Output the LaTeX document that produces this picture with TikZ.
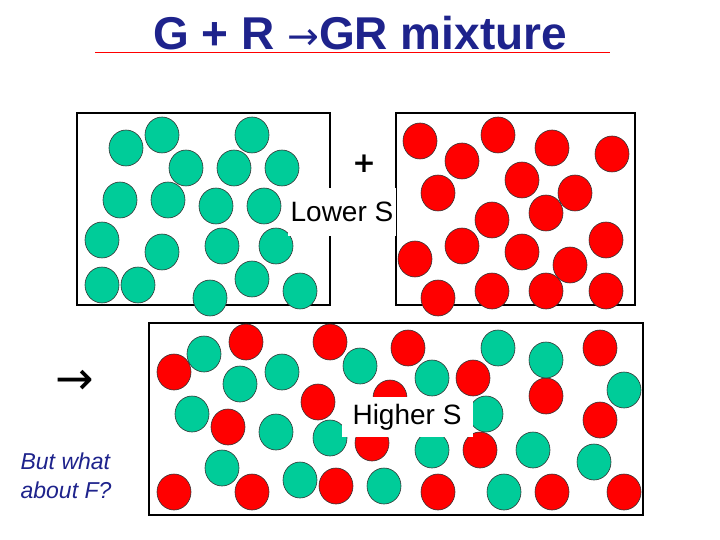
\documentclass[tikz,border=0pt]{standalone}
\usetikzlibrary{shapes.geometric}
\usepackage{fontspec}
\setmainfont{Liberation Sans}
\newfontfamily\djv{DejaVu Sans}
\definecolor{gr}{RGB}{0,204,153}
\definecolor{rd}{RGB}{255,0,0}
\definecolor{tb}{RGB}{30,35,140}
\begin{document}
\begin{tikzpicture}[x=1pt,y=-1pt,
  g/.style={draw=black!80,line width=0.6pt,fill=gr,ellipse,minimum width=34pt,minimum height=36pt,inner sep=0pt},
  r/.style={draw=black!80,line width=0.6pt,fill=rd,ellipse,minimum width=34pt,minimum height=36pt,inner sep=0pt},
  boxs/.style={draw=black,line width=1.2pt},
  lab/.style={fill=white,font=\fontsize{28}{30}\selectfont,inner sep=3pt}]
\useasboundingbox (0,0) rectangle (720,540);
\node[font=\fontsize{46}{50}\selectfont\bfseries,text=tb] (title) at (360,33) {G + R {\djv\mdseries\fontsize{38}{40}\selectfont →}GR mixture};
\draw[rd,line width=1pt] (95,53) coordinate (u1) -- (610,53) coordinate (u2);
\draw[boxs] (77,113) rectangle (330,305);
\draw[boxs] (396,113) rectangle (635,305);
\draw[boxs] (149,323) rectangle (643,515);
\foreach \p [count=\i] in {(126,148),(162,135),(252,135),(186,168),(234,168),(282,168),(120,200),(168,200),(216,206),(264,206),(102,240),(162,252),(222,246),(276,246),(102,285),(138,285),(210,298),(252,279),(300,291)}
  \node[g] (a\i) at \p {};
\foreach \p [count=\i] in {(420,141),(498,135),(462,161),(552,148),(612,154),(438,193),(522,180),(575,193),(492,220),(546,213),(415,259),(462,246),(522,252),(606,240),(570,265),(438,298),(492,291),(546,291),(606,291)}
  \node[r] (b\i) at \p {};
\foreach \p [count=\i] in {(174,372),(246,342),(330,342),(408,348),(473,378),(600,348),(318,402),(390,398),(228,427),(372,443),(480,450),(546,396),(600,420),(174,492),(252,492),(336,486),(438,492),(552,492),(624,492)}
  \node[r] (c\i) at \p {};
\foreach \p [count=\i] in {(204,354),(240,384),(282,372),(360,366),(432,378),(498,348),(546,360),(624,390),(192,414),(276,432),(330,438),(486,414),(432,450),(533,450),(594,462),(222,468),(300,480),(384,486),(504,492)}
  \node[g] (d\i) at \p {};
\node[font=\djv\bfseries\fontsize{28}{30}\selectfont] (plus) at (364,164) {+};
\node[lab,minimum width=107pt,minimum height=48pt] (lower) at (342,212) {Lower S};
\node[lab,minimum width=131pt,minimum height=40pt] (higher) at (407,417) {Higher S};
\node[font=\djv\fontsize{46}{48}\selectfont] (arr) at (75,382) {→};
\node[font=\itshape\fontsize{23}{29}\selectfont,text=tb,align=left] (q) at (66,476) {But what\\about F?};
\end{tikzpicture}
\end{document}
